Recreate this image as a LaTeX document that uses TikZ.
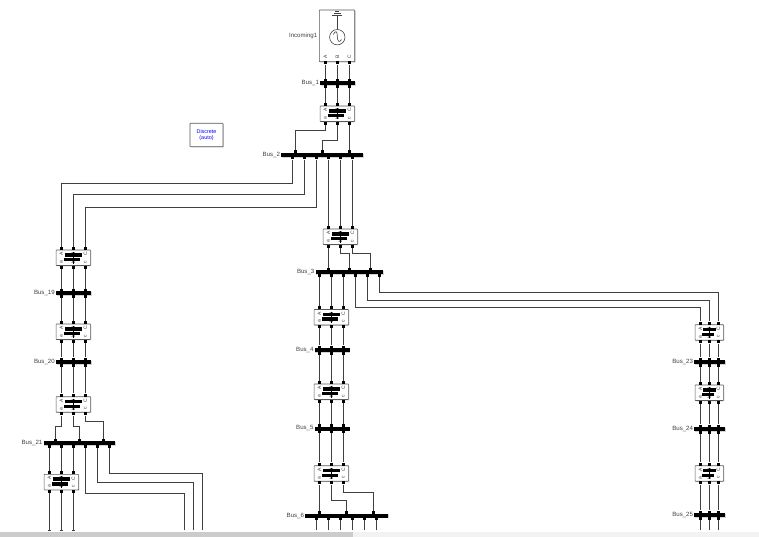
\documentclass[tikz,border=0pt]{standalone}
\usepackage{fontspec}
\setmainfont{Liberation Sans}
\usetikzlibrary{positioning}
\usetikzlibrary{shadows}

\tikzset{
  wire/.style={draw=black!75, line width=0.6pt},
  port/.style={fill=black, inner sep=0pt, minimum size=3pt},
  busnode/.style={fill=black, inner sep=0pt, minimum height=4pt,
    drop shadow={shadow xshift=0.7pt, shadow yshift=-0.7pt, opacity=0.35}},
  block/.style={draw=black!65, fill=white, line width=0.6pt, inner sep=0pt, rounded corners=0.5pt,
    drop shadow={shadow xshift=0.9pt, shadow yshift=-0.9pt, opacity=0.35}},
  buslabel/.style={inner sep=0pt, text=black!75, font=\fontsize{6.1}{7}\selectfont},
  pin/.style={inner sep=0pt, rotate=90, text=black!75, font=\fontsize{5}{5.5}\selectfont},
}

% name, first x, last x, y, upper ports, lower ports
\newcommand{\busbar}[7]{
  \pgfmathsetmacro{\buslen}{#4-#3}
  \node[busnode, anchor=west, minimum width=\buslen pt] (#1) at (#3,#5) {};
  \node[buslabel, left=0.8pt of #1] (#1-label) {#2};
  \foreach \px [count=\n] in {#6} {\node[port] (#1-i\n) at (\px,#5-3) {};}
  \foreach \px [count=\n] in {#7} {\node[port] (#1-o\n) at (\px,#5+3) {};}
}

% name, centre x, top y, port spacing
\newcommand{\breaker}[4]{
  \pgfmathsetmacro{\brkwid}{2*#4+10.5}
  \node[block, minimum width=\brkwid pt, minimum height=15.5pt] (#1) at (#2,#3+7.75) {};
  \foreach \pn/\dx in {A/-1,B/0,C/1} {\node[pin] (#1-\pn) at (#2+\dx*#4,#3+4) {\pn};}
  \foreach \pn/\dx in {a/-1,b/0,c/1} {\node[pin] (#1-\pn) at (#2+\dx*#4,#3+12) {\pn};}
  \draw[black, line width=0.4pt] (#2,#3+2) -- (#2,#3+13.5);
  \fill[black] (#2-0.7*#4,#3+3) rectangle (#2+0.75*#4,#3+6.7);
  \fill[black] (#2-0.8*#4,#3+7.8) rectangle (#2+0.55*#4,#3+11.4);
  \foreach \pn/\dx [count=\n] in {A/-1,B/0,C/1} {
    \node[port] (#1-i\n) at (#2+\dx*#4,#3-1.6) {};
    \node[port] (#1-o\n) at (#2+\dx*#4,#3+17.1) {};
  }
}

% three straight wires
\newcommand{\straight}[2]{
  \foreach \n in {1,2,3} {\draw[wire] (#1-o\n) -- (#2-i\n);}
}
% from, to, y of the run
\newcommand{\elbow}[3]{\draw[wire] (#1) |- (#2 |- 0,#3) -- (#2);}

\begin{document}
\begin{tikzpicture}[x=1pt,y=-1pt]
  \useasboundingbox (0,0) rectangle (759,537);

  % source
  \node[block, minimum width=35.4pt, minimum height=51.7pt] (incoming) at (337,35.85) {};
  \node[buslabel, left=1.6pt of incoming] (incoming-label) {Incoming1};
  \node[draw=black!80, circle, line width=0.55pt, minimum size=15.4pt, inner sep=0pt] (source) at (337.3,37.2) {};
  \coordinate (earth) at (337.3,15.8);
  \draw[wire] (source) -- (earth);
  \draw[wire] (332.3,15.8) -- (342.3,15.8);
  \draw[wire] (333.8,13.7) -- (340.8,13.7);
  \draw[wire] (335.3,11.7) -- (339.3,11.7);
  \draw[wire] (333.3,34.5) .. controls (335.5,30) and (337.5,31) .. (337.3,36.5)
     .. controls (337.5,42) and (339.5,43) .. (341.5,39.5);
  \foreach \pn/\px in {A/325.3,B/337.3,C/349.3} {\node[pin] (incoming-\pn) at (\px,57) {\pn};}
  \foreach \px [count=\n] in {325.3,337.3,349.3} {\node[port] (incoming-o\n) at (\px,63) {};}

  % solver
  \node[block, minimum width=33pt, minimum height=23.4pt, align=center, text=blue,
    font=\fontsize{5.4}{6}\selectfont] (powergui) at (206.5,135) {Discrete\\(auto)};

  % top of the tree
  \busbar{bus1}{Bus\_1}{320}{355}{83.3}{325.3,337.3,349.3}{325.3,337.3,349.3}
  \breaker{brk1}{337.3}{106}{12}
  \busbar{bus2}{Bus\_2}{281}{363}{155}{295.3,322.3,349.3}{292.3,304.3,316.3,328.3,340.3,352.3}
  \foreach \n in {1,2,3} {\draw[wire] (incoming-o\n) -- (bus1-i\n);}
  \straight{bus1}{brk1}
  \elbow{brk1-o1}{bus2-i1}{130}
  \elbow{brk1-o2}{bus2-i2}{140}
  \draw[wire] (brk1-o3) -- (bus2-i3);

  % left feeder
  \breaker{brk19}{73.3}{250}{12}
  \busbar{bus19}{Bus\_19}{55.7}{90.7}{293.3}{61.3,73.3,85.3}{61.3,73.3,85.3}
  \breaker{brk20}{73.3}{324}{12}
  \busbar{bus20}{Bus\_20}{55.7}{90.7}{362}{61.3,73.3,85.3}{61.3,73.3,85.3}
  \breaker{brk21}{73.3}{396.7}{12}
  \busbar{bus21}{Bus\_21}{43.3}{115}{443.3}{55.3,79.3,103.3}{49.3,61.3,73.3,85.3,97.3,109.3}
  \breaker{brk22}{61.3}{474.3}{12}
  \elbow{bus2-o1}{brk19-i1}{183.3}
  \elbow{bus2-o2}{brk19-i2}{194.5}
  \elbow{bus2-o3}{brk19-i3}{207.3}
  \straight{brk19}{bus19}
  \straight{bus19}{brk20}
  \straight{brk20}{bus20}
  \straight{bus20}{brk21}
  \elbow{brk21-o1}{bus21-i1}{426.7}
  \elbow{brk21-o2}{bus21-i2}{426.7}
  \elbow{brk21-o3}{bus21-i3}{421.7}
  \draw[wire] (bus21-o1) -- (brk22-i1);
  \draw[wire] (bus21-o2) -- (brk22-i2);
  \draw[wire] (bus21-o3) -- (brk22-i3);
  \foreach \px [count=\n] in {49.3,61.3,73.3} {
    \coordinate (endA\n) at (\px,530);
    \draw[wire] (brk22-o\n) -- (endA\n);
    \draw[wire] (\px-1.3,530) -- (\px+1.3,530);
  }
  \coordinate (endB1) at (184.7,530);
  \coordinate (endB2) at (193.7,530);
  \coordinate (endB3) at (202.7,530);
  \draw[wire] (bus21-o4) |- (endB1 |- 0,493.3) -- (endB1);
  \draw[wire] (bus21-o5) |- (endB2 |- 0,482.7) -- (endB2);
  \draw[wire] (bus21-o6) |- (endB3 |- 0,473.3) -- (endB3);

  % middle feeder
  \breaker{brk3}{340.3}{229}{12}
  \busbar{bus3}{Bus\_3}{315.3}{382.7}{272.3}{328.3,349.3,370.3}{319.3,331.3,343.3,355.3,367.3,379.3}
  \breaker{brk4}{331.3}{309.5}{12}
  \busbar{bus4}{Bus\_4}{314.5}{349.5}{350}{319.3,331.3,343.3}{319.3,331.3,343.3}
  \breaker{brk5}{331.3}{384}{12}
  \busbar{bus5}{Bus\_5}{314.5}{349.5}{428.5}{319.3,331.3,343.3}{319.3,331.3,343.3}
  \breaker{brk6}{331.3}{465.7}{12}
  \busbar{bus6}{Bus\_6}{305}{387.7}{515.7}{319.3,346.3,373.3}{316.3,328.3,340.3,352.3,364.3,376.3}
  \draw[wire] (bus2-o4) -- (brk3-i1);
  \draw[wire] (bus2-o5) -- (brk3-i2);
  \draw[wire] (bus2-o6) -- (brk3-i3);
  \draw[wire] (brk3-o1) -- (bus3-i1);
  \elbow{brk3-o2}{bus3-i2}{253.3}
  \elbow{brk3-o3}{bus3-i3}{253.3}
  \draw[wire] (bus3-o1) -- (brk4-i1);
  \draw[wire] (bus3-o2) -- (brk4-i2);
  \draw[wire] (bus3-o3) -- (brk4-i3);
  \straight{brk4}{bus4}
  \straight{bus4}{brk5}
  \straight{brk5}{bus5}
  \straight{bus5}{brk6}
  \draw[wire] (brk6-o1) -- (bus6-i1);
  \elbow{brk6-o2}{bus6-i2}{500}
  \elbow{brk6-o3}{bus6-i3}{492.3}
  \foreach \px [count=\n] in {316.3,328.3,340.3,352.3,364.3,376.3} {
    \coordinate (endC\n) at (\px,530);
    \draw[wire] (bus6-o\n) -- (endC\n);
  }

  % right feeder
  \breaker{brk23}{709.3}{324.7}{9}
  \busbar{bus23}{Bus\_23}{694}{725}{362}{700.3,709.3,718.3}{700.3,709.3,718.3}
  \breaker{brk24}{709.3}{385}{9}
  \busbar{bus24}{Bus\_24}{694}{725}{429}{700.3,709.3,718.3}{700.3,709.3,718.3}
  \breaker{brk25}{709.3}{465.7}{9}
  \busbar{bus25}{Bus\_25}{694}{725}{515}{700.3,709.3,718.3}{700.3,709.3,718.3}
  \elbow{bus3-o4}{brk23-i1}{307.3}
  \elbow{bus3-o5}{brk23-i2}{300}
  \elbow{bus3-o6}{brk23-i3}{292.7}
  \straight{brk23}{bus23}
  \straight{bus23}{brk24}
  \straight{brk24}{bus24}
  \straight{bus24}{brk25}
  \straight{brk25}{bus25}
  \foreach \px [count=\n] in {700.3,709.3,718.3} {
    \coordinate (endD\n) at (\px,530);
    \draw[wire] (bus25-o\n) -- (endD\n);
  }

  % scroll bar
  \fill[black!5] (0,531.5) rectangle (759,537);
  \fill[black!20] (0,531.5) rectangle (353,537);
\end{tikzpicture}
\end{document}
